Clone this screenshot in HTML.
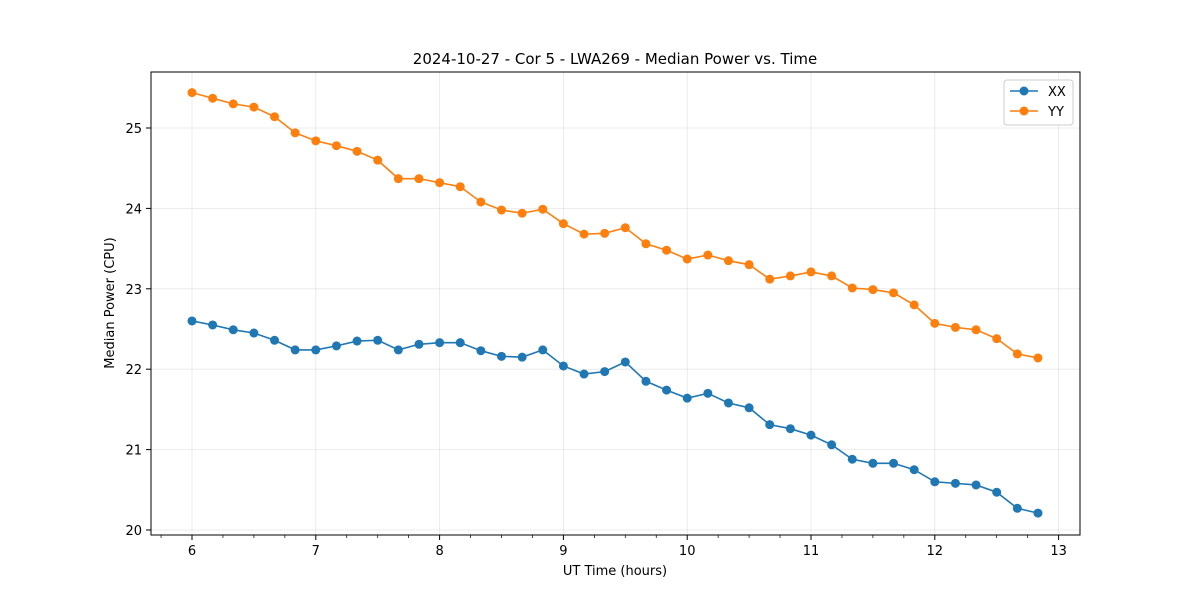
<!DOCTYPE html>
<html><head><meta charset="utf-8"><style>
body{margin:0;background:#fff;font-family:"Liberation Sans","DejaVu Sans",sans-serif;}
svg text{font-family:"DejaVu Sans","Liberation Sans",sans-serif;}
</style></head><body>
<svg id="chart" width="1200" height="600">
<rect width="1200" height="600" fill="#fff"/>
<text x="615" y="64" font-size="15" text-anchor="middle">2024-10-27 - Cor 5 - LWA269 - Median Power vs. Time</text>
<g id="grid"></g><g id="axes"></g><g id="series"></g>
<rect x="151" y="72" width="929" height="463" fill="none" stroke="#000" stroke-width="1"/>
<text x="615" y="575" font-size="13" text-anchor="middle">UT Time (hours)</text>
<text transform="translate(114,303) rotate(-90)" font-size="13" text-anchor="middle">Median Power (CPU)</text>
<g>
<rect x="1004" y="80" width="69" height="45" rx="3" fill="#fff" stroke="#ccc"/>
<g><line x1="1010" y1="91" x2="1038" y2="91" stroke="#1f77b4" stroke-width="1.5"/><circle cx="1024" cy="91" r="4.5" fill="#1f77b4"/><text x="1048" y="96" font-size="13">XX</text></g>
<g><line x1="1010" y1="111" x2="1038" y2="111" stroke="#ff7f0e" stroke-width="1.5"/><circle cx="1024" cy="111" r="4.5" fill="#ff7f0e"/><text x="1048" y="116" font-size="13">YY</text></g>
</g>
</svg>
<script>
const xx = [22.60,22.55,22.49,22.45,22.36,22.24,22.24,22.29,22.35,22.36,22.24,22.31,22.33,22.33,22.23,22.16,22.15,22.24,22.04,21.94,21.97,22.09,21.85,21.74,21.64,21.70,21.58,21.52,21.31,21.26,21.18,21.06,20.88,20.83,20.83,20.75,20.60,20.58,20.56,20.47,20.27,20.21];
const yy = [25.44,25.37,25.30,25.26,25.14,24.94,24.84,24.78,24.71,24.60,24.37,24.37,24.32,24.27,24.08,23.98,23.94,23.99,23.81,23.68,23.69,23.76,23.56,23.48,23.37,23.42,23.35,23.30,23.12,23.16,23.21,23.16,23.01,22.99,22.95,22.80,22.57,22.52,22.49,22.38,22.19,22.14];
const xTicks = [6,7,8,9,10,11,12,13];
const yTicks = [20,21,22,23,24,25];
const startHour = 6, stepHour = 1/6;
const NS="http://www.w3.org/2000/svg";
const xs = v => 192 + (v-6)*123.8;
const ys = v => 530 - (v-20)*80.4;
function mk(tag, attrs, parent){const e=document.createElementNS(NS,tag);for(const k in attrs)e.setAttribute(k,attrs[k]);parent.appendChild(e);return e;}
const grid=document.getElementById('grid'), axes=document.getElementById('axes'), series=document.getElementById('series');
xTicks.forEach(t=>{
  const x=xs(t);
  const g=mk('line',{x1:x,x2:x,y1:72,y2:535,stroke:'#b0b0b0','stroke-opacity':0.3,'stroke-width':0.8},grid);
  
  
  mk('line',{x1:x,x2:x,y1:535,y2:540,stroke:'#000'},axes);
  const tx=mk('text',{x:x,y:555,'font-size':13,'text-anchor':'middle'},axes);tx.textContent=t;
  
  
});
for(let m=5.75;m<=13.1;m+=0.25){
  if(Math.abs(m-Math.round(m))<1e-6)continue;
  const x=xs(m); if(x<151||x>1080)continue;
  mk('line',{x1:x,x2:x,y1:535,y2:538,stroke:'#000','stroke-width':0.7},axes);
}
yTicks.forEach(t=>{
  const y=ys(t);
  const g=mk('line',{x1:151,x2:1080,y1:y,y2:y,stroke:'#b0b0b0','stroke-opacity':0.3,'stroke-width':0.8},grid);
  
  
  mk('line',{x1:146,x2:151,y1:y,y2:y,stroke:'#000'},axes);
  const tx=mk('text',{x:142,y:y+5,'font-size':13,'text-anchor':'end'},axes);tx.textContent=t;
  
  
});
function draw(vals,color,name){
  const pts=vals.map((v,i)=>[xs(startHour+i*stepHour),ys(v)]);
  const pl=mk('polyline',{points:pts.map(p=>p.join(',')).join(' '),fill:'none',stroke:color,'stroke-width':1.6},series);
  
  
  pts.forEach(p=>{
    const c=mk('circle',{cx:p[0],cy:p[1],r:4.5,fill:color},series);
    
    
  });
}
draw(xx,'#1f77b4','xx');
draw(yy,'#ff7f0e','yy');
</script>
</body></html>
